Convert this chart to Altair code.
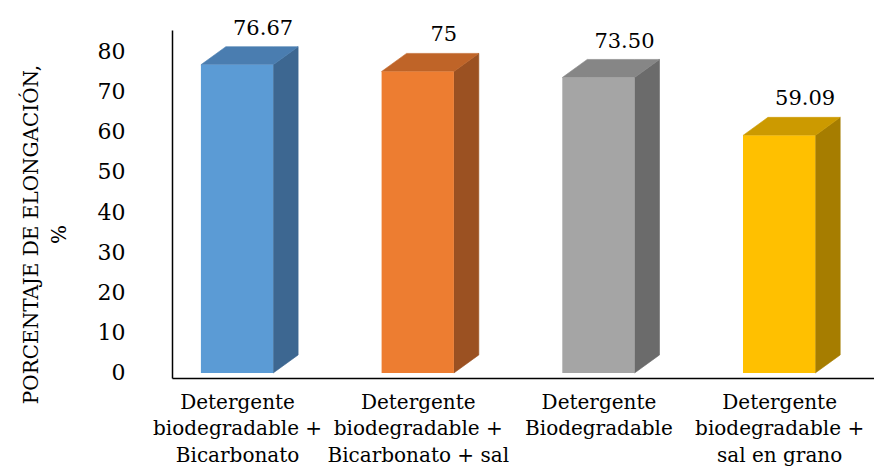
import json

import altair as alt
import pandas as pd

# Category names (line breaks as drawn under the axis)
categories = [
    ["Detergente", "biodegradable +", "Bicarbonato"],
    ["Detergente", "biodegradable +", "Bicarbonato + sal"],
    ["Detergente", "Biodegradable"],
    ["Detergente", "biodegradable +", "sal en grano"],
]
values = [76.67, 75.0, 73.50, 59.09]
value_labels = ["76.67", "75", "73.50", "59.09"]
y_ticks = [0, 10, 20, 30, 40, 50, 60, 70, 80]

# Face colours of each 3D column: front, top, side
front_colors = ["#5B9BD5", "#ED7D31", "#A5A5A5", "#FFC000"]
top_colors = ["#4A7DB0", "#BF6428", "#868686", "#CC9A00"]
side_colors = ["#3D6791", "#9B5122", "#6B6B6B", "#A67D00"]

# Column geometry in data units
HALF = 0.2       # half width of the front face (category units)
DEPTH_X = 0.138  # horizontal depth offset (category units)
DEPTH_Y = 4.5    # vertical depth offset (value units)

FONT = "DejaVu Serif"

front_rows, side_rows, top_rows, label_rows = [], [], [], []
for i, v in enumerate(values):
    x0, x1 = i - HALF, i + HALF
    front_rows.append({"bar": i, "x": x0, "x_end": x1, "lo": 0.0, "hi": v,
                       "color": front_colors[i]})
    side_rows += [
        {"bar": i, "x": x1, "lo": 0.0, "hi": v, "color": side_colors[i]},
        {"bar": i, "x": x1 + DEPTH_X, "lo": DEPTH_Y, "hi": v + DEPTH_Y,
         "color": side_colors[i]},
    ]
    top_rows += [
        {"bar": i, "x": x0, "lo": v, "hi": v, "color": top_colors[i]},
        {"bar": i, "x": x0 + DEPTH_X, "lo": v, "hi": v + DEPTH_Y, "color": top_colors[i]},
        {"bar": i, "x": x1, "lo": v, "hi": v + DEPTH_Y, "color": top_colors[i]},
        {"bar": i, "x": x1 + DEPTH_X, "lo": v + DEPTH_Y, "hi": v + DEPTH_Y,
         "color": top_colors[i]},
    ]
    label_rows.append({"bar": i, "x": float(i), "v": v, "text": value_labels[i]})

front_df = pd.DataFrame(front_rows)
side_df = pd.DataFrame(side_rows)
top_df = pd.DataFrame(top_rows)
label_df = pd.DataFrame(label_rows)

x_scale = alt.Scale(domain=[-0.36, 3.525], nice=False, zero=False)
y_scale = alt.Scale(domain=[-1.244, 85.32], nice=False, zero=False)

x_axis = alt.Axis(
    values=list(range(len(categories))),
    labelExpr=json.dumps(categories) + "[datum.value]",
    title=None,
    grid=False,
    ticks=False,
    domain=True,
    domainColor="#000000",
    domainWidth=1.5,
    labelFont=FONT,
    labelFontSize=20,
    labelColor="#000000",
    labelLineHeight=26.5,
    labelPadding=14,
    labelLimit=400,
    labelOverlap=False,
    labelFlush=False,
    labelAlign="center",
)

y_axis = alt.Axis(
    values=y_ticks,
    title=["PORCENTAJE DE ELONGACIÓN,", "%"],
    titleFont=FONT,
    titleFontSize=20,
    titleFontWeight="normal",
    titleColor="#000000",
    titleAngle=270,
    titleAlign="center",
    titleBaseline="alphabetic",
    titleLineHeight=28,
    titleX=-135,
    titleY=204,
    titleLimit=500,
    grid=False,
    ticks=False,
    domain=True,
    domainColor="#000000",
    domainWidth=1.5,
    labelFont=FONT,
    labelFontSize=22,
    labelColor="#000000",
    labelPadding=47,
    labelFlush=False,
)

x_enc = alt.X("x:Q", scale=x_scale, axis=x_axis)
y_enc = alt.Y("lo:Q", scale=y_scale, axis=y_axis)
color_enc = alt.Color("color:N", scale=None)

side = alt.Chart(side_df).mark_area(strokeWidth=0.6).encode(
    x=x_enc, y=y_enc, y2="hi:Q", detail="bar:N", color=color_enc,
    stroke=alt.Stroke("color:N", scale=None),
)

top = alt.Chart(top_df).mark_area(strokeWidth=0.6).encode(
    x=x_enc, y=y_enc, y2="hi:Q", detail="bar:N", color=color_enc,
    stroke=alt.Stroke("color:N", scale=None),
)

front = alt.Chart(front_df).mark_rect().encode(
    x=x_enc, x2="x_end:Q", y=y_enc, y2="hi:Q", color=color_enc,
)

labels = alt.Chart(label_df).mark_text(
    font=FONT, fontSize=21, color="#000000", dx=26, dy=-30,
    baseline="alphabetic", align="center",
).encode(
    x=x_enc,
    y=alt.Y("v:Q", scale=y_scale, axis=y_axis),
    text="text:N",
)

chart = alt.layer(side, top, front, labels).properties(
    width=702,
    height=348,
    autosize=alt.AutoSizeParams(type="none"),
    padding={"left": 172, "top": 30, "right": 0, "bottom": 90},
    background="#ffffff",
).configure_view(stroke=None)

chart.save("out.html", embed_options={"renderer": "svg", "actions": False})
